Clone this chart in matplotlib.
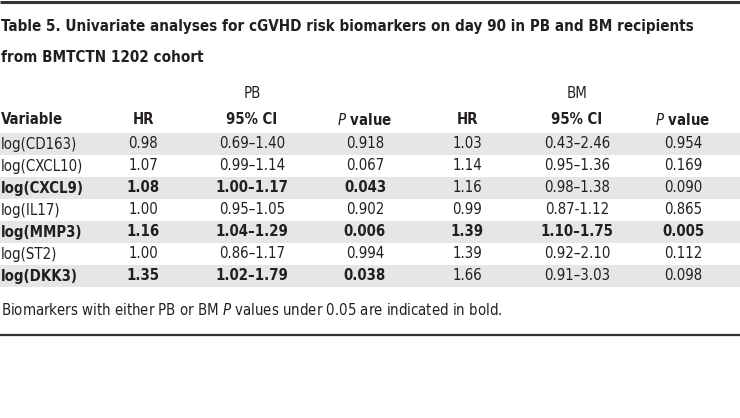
import matplotlib
matplotlib.use("Agg")
import matplotlib.pyplot as plt
from matplotlib.patches import Rectangle

# fonte condensada (DejaVu Sans Condensed)
plt.rcParams['font.family'] = ['DejaVu Sans']
plt.rcParams['font.stretch'] = 'condensed'

# dados da tabela
title_lines = ["Table 5. Univariate analyses for cGVHD risk biomarkers on day 90 in PB and BM recipients",
               "from BMTCTN 1202 cohort"]
groups = ["PB", "BM"]
variables = ["log(CD163)", "log(CXCL10)", "log(CXCL9)", "log(IL17)",
             "log(MMP3)", "log(ST2)", "log(DKK3)"]
pb_hr = ["0.98", "1.07", "1.08", "1.00", "1.16", "1.00", "1.35"]
pb_ci = ["0.69–1.40", "0.99–1.14", "1.00–1.17", "0.95–1.05", "1.04–1.29", "0.86–1.17", "1.02–1.79"]
pb_p = ["0.918", "0.067", "0.043", "0.902", "0.006", "0.994", "0.038"]
bm_hr = ["1.03", "1.14", "1.16", "0.99", "1.39", "1.39", "1.66"]
bm_ci = ["0.43–2.46", "0.95–1.36", "0.98–1.38", "0.87-1.12", "1.10–1.75", "0.92–2.10", "0.91–3.03"]
bm_p = ["0.954", "0.169", "0.090", "0.865", "0.005", "0.112", "0.098"]
bold_rows = [False, False, True, False, True, False, True]
footnote = "Biomarkers with either PB or BM $\\it{P}$ values under 0.05 are indicated in bold."

W, H = 740, 418
fig = plt.figure(figsize=(W / 100, H / 100), dpi=100)
ax = fig.add_axes([0, 0, 1, 1])
ax.set_xlim(0, W)
ax.set_ylim(H, 0)
ax.axis('off')

dark = '#231f20'
shade = '#e6e6e6'
body_fs = 10.7

# linhas horizontais
ax.plot([0, W], [1.5, 1.5], color='#333333', lw=2.2, solid_capstyle='butt')
ax.plot([0, W], [334.5, 334.5], color='#333333', lw=1.6, solid_capstyle='butt')

# titulo
for i, line in enumerate(title_lines):
    ax.text(1, 27 + i * 30, line, fontsize=10.9, fontweight='bold', color=dark,
            ha='left', va='center')

# grupos
group_x = [252, 577]
for g, gx in zip(groups, group_x):
    ax.text(gx, 93, g, fontsize=body_fs, color=dark, ha='center', va='center')

# cabecalho
col_x = [143, 252, 365, 467, 577, 683]
headers = ["HR", "95% CI", "$\\it{P}$ value", "HR", "95% CI", "$\\it{P}$ value"]
ax.text(1, 120, "Variable", fontsize=body_fs, fontweight='bold', color=dark, ha='left', va='center')
for hx, h in zip(col_x, headers):
    ax.text(hx, 120, h, fontsize=body_fs, fontweight='bold', color=dark, ha='center', va='center')

# linhas de dados
row_top = 133
row_h = 22
for i, var in enumerate(variables):
    yc = row_top + i * row_h + row_h / 2
    if i % 2 == 0:
        ax.add_patch(Rectangle((0, row_top + i * row_h), W, row_h, facecolor=shade,
                               edgecolor='none', zorder=0))
    fw = 'bold' if bold_rows[i] else 'normal'
    ax.text(1, yc, var, fontsize=body_fs, fontweight=fw, color=dark, ha='left', va='center')
    pb_vals = [pb_hr[i], pb_ci[i], pb_p[i]]
    bm_vals = [bm_hr[i], bm_ci[i], bm_p[i]]
    bm_bold = float(bm_p[i]) < 0.05
    for j, v in enumerate(pb_vals):
        ax.text(col_x[j], yc, v, fontsize=body_fs, fontweight=fw, color=dark,
                ha='center', va='center')
    for j, v in enumerate(bm_vals):
        ax.text(col_x[3 + j], yc, v, fontsize=body_fs,
                fontweight='bold' if bm_bold else 'normal', color=dark,
                ha='center', va='center')

ax.text(1, 310, footnote, fontsize=body_fs, color=dark, ha='left', va='center')

fig.savefig("out.png", dpi=100)
